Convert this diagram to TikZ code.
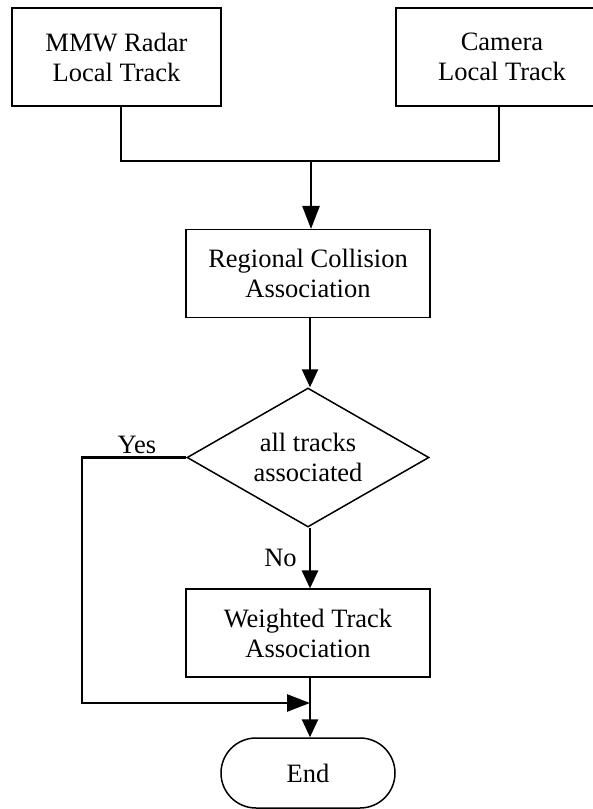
\documentclass[tikz,border=0pt]{standalone}
\usepackage{fontspec}
\setmainfont{Liberation Serif}
\usetikzlibrary{shapes.geometric,shapes.misc,arrows.meta}
\begin{document}
\begin{tikzpicture}[x=1pt,y=-1pt,
  every node/.style={font=\fontsize{26.5}{30}\selectfont, align=center, inner sep=0pt},
  procbox/.style={draw, line width=1.1pt, rectangle, minimum width=244pt, minimum height=88pt},
  srcbox/.style={draw, line width=1.1pt, rectangle, minimum height=98pt},
  decision/.style={draw, line width=1.5pt, diamond, aspect=1.74, minimum width=242pt, minimum height=139pt},
  terminal/.style={draw, line width=1.5pt, rounded rectangle, minimum width=174pt, minimum height=70pt},
  conn/.style={line width=2.6pt},
  arr/.style={line width=2.6pt, -{Triangle[length=18pt,width=16pt]}},
  longarr/.style={line width=2.6pt, -{Triangle[length=23pt,width=17pt]}},
  lbl/.style={font=\fontsize{26.5}{30}\selectfont}
]
\useasboundingbox (0,0) rectangle (593,809);
\node[srcbox, minimum width=209pt] (radar) at (116.5,57) {MMW Radar\\Local Track};
\node[srcbox, minimum width=212pt] (camera) at (502,57) {Camera\\Local Track};
\coordinate (j) at (311,161);
\node[procbox] (regional) at (308,273.5) {Regional Collision\\Association};
\node[decision] (dec) at (308,457.5) {all tracks\\associated};
\node[procbox] (weighted) at (308,633) {Weighted Track\\Association};
\node[terminal] (end) at (308,773) {End};
\coordinate (yc) at (82,457.5);
\coordinate (merge) at (310,703);

\draw[conn] ([xshift=4.5pt]radar.south) |- (j) -| ([xshift=-3pt]camera.south);
\draw[longarr] (j) -- (j |- regional.north);
\draw[arr] ([xshift=2pt]regional.south) -- ([xshift=2pt]dec.north);
\draw[arr] ([xshift=2pt]dec.south) -- ([xshift=2pt]weighted.north) node[pos=0.5, left=12pt, lbl] {No};
\draw[arr] ([xshift=2pt]weighted.south) -- ([xshift=2pt]end.north);
\draw[conn] (dec.west) -- (yc) |- ([xshift=-22pt]merge);
\draw[longarr] ([xshift=-23pt]merge) -- (merge);
\node[lbl] (yes) at (137,445) {Yes};
\end{tikzpicture}
\end{document}
